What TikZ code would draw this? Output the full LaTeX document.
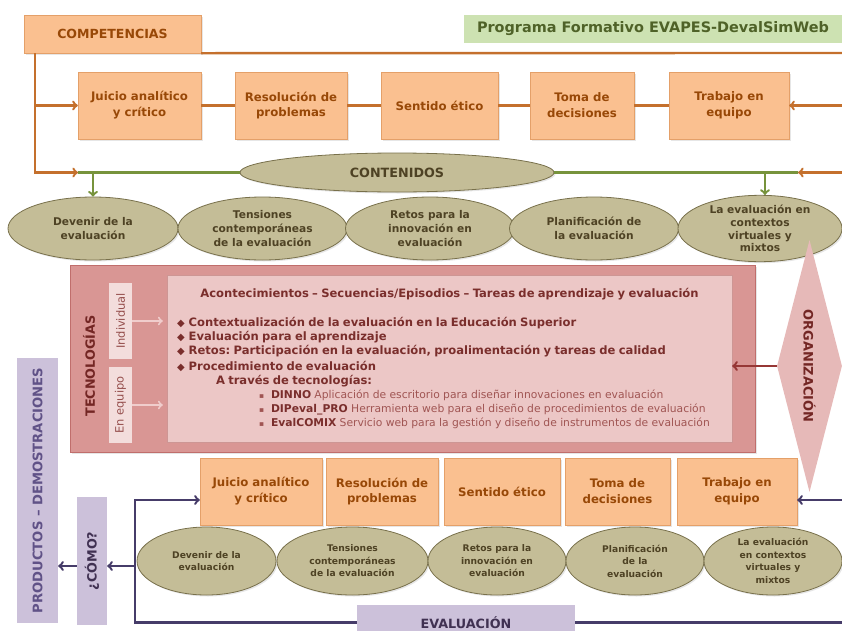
\documentclass[tikz,border=0pt]{standalone}
\usepackage{fontspec}
\setmainfont{DejaVu Sans}
\usepackage{tikz}
\usetikzlibrary{arrows,shapes,shadows}

\definecolor{compfondo}{RGB}{250,192,144}
\definecolor{compborde}{RGB}{228,160,105}
\definecolor{comptexto}{RGB}{152,72,7}
\definecolor{complinea}{RGB}{196,112,45}
\definecolor{contfondo}{RGB}{196,189,151}
\definecolor{contborde}{RGB}{120,112,75}
\definecolor{conttexto}{RGB}{78,66,36}
\definecolor{contlinea}{RGB}{119,147,60}
\definecolor{progfondo}{RGB}{205,226,178}
\definecolor{progtexto}{RGB}{79,98,40}
\definecolor{tecfondo}{RGB}{217,150,148}
\definecolor{tecborde}{RGB}{192,110,108}
\definecolor{tectexto}{RGB}{115,38,36}
\definecolor{acofondo}{RGB}{236,199,198}
\definecolor{acoborde}{RGB}{205,150,148}
\definecolor{acotexto}{RGB}{122,46,44}
\definecolor{acosuave}{RGB}{160,85,83}
\definecolor{indfondo}{RGB}{243,221,220}
\definecolor{indtexto}{RGB}{150,80,78}
\definecolor{indflecha}{RGB}{240,205,204}
\definecolor{orgfondo}{RGB}{230,185,184}
\definecolor{orglinea}{RGB}{150,55,53}
\definecolor{evalfondo}{RGB}{204,193,218}
\definecolor{evaltexto}{RGB}{64,49,82}
\definecolor{evallinea}{RGB}{70,60,105}
\definecolor{prodtexto}{RGB}{96,82,135}

\begin{document}
\begin{tikzpicture}[
  compbox/.style={draw=compborde,fill=compfondo,text=comptexto,align=center,inner sep=1bp,
    minimum height=67bp,font=\bfseries\fontsize{11.8}{16}\selectfont,
    drop shadow={opacity=0.2,shadow xshift=1.5bp,shadow yshift=-1.5bp}},
  contelipse/.style={ellipse,draw=contborde,fill=contfondo,text=conttexto,align=center,inner sep=0pt,
    line width=0.8pt,font=\bfseries\fontsize{10.7}{14.5}\selectfont,
    drop shadow={opacity=0.2,shadow xshift=1.5bp,shadow yshift=-1.5bp}},
  evalbox/.style={fill=evalfondo,text=evaltexto,inner sep=0pt,font=\bfseries\fontsize{12.8}{14}\selectfont},
  compline/.style={draw=complinea,line width=2.4pt},
  contline/.style={draw=contlinea,line width=2.4pt},
  evalline/.style={draw=evallinea,line width=2.4pt},
  >=to]

\useasboundingbox (0bp,0bp) rectangle (842bp,-631bp);
\clip (0bp,0bp) rectangle (842bp,-631bp);

% competencias
\node (competencias) at (112.5bp,-34bp)[compbox,minimum width=177bp,minimum height=38bp,font=\bfseries\fontsize{12.6}{14}\selectfont] {COMPETENCIAS};
\node (programa) at (653bp,-29bp)[fill=progfondo,text=progtexto,minimum width=378bp,minimum height=28bp,font=\bfseries\fontsize{14.5}{16}\selectfont] {Programa Formativo EVAPES-DevalSimWeb};

\node (juicio) at (139.5bp,-105.5bp)[compbox,minimum width=123bp] {Juicio analítico\\y crítico};
\node (resolucion) at (291bp,-105.5bp)[compbox,minimum width=112bp] {Resolución de\\problemas};
\node (sentido) at (439.5bp,-105.5bp)[compbox,minimum width=117bp] {Sentido ético};
\node (toma) at (582bp,-105.5bp)[compbox,minimum width=104bp] {Toma de\\decisiones};
\node (trabajo) at (729bp,-105.5bp)[compbox,minimum width=120bp] {Trabajo en\\equipo};

% contenidos
\node (contenidos) at (397bp,-172.5bp)[contelipse,minimum width=314bp,minimum height=39bp,font=\bfseries\fontsize{12.8}{14}\selectfont] {CONTENIDOS};
\node (devenir) at (93bp,-228.5bp)[contelipse,minimum width=170bp,minimum height=63bp] {Devenir de la\\evaluación};
\node (tensiones) at (262.5bp,-228.5bp)[contelipse,minimum width=169bp,minimum height=63bp] {Tensiones\\contemporáneas\\de la evaluación};
\node (retos) at (430bp,-228.5bp)[contelipse,minimum width=169bp,minimum height=63bp] {Retos para la\\innovación en\\evaluación};
\node (planificacion) at (594bp,-228.5bp)[contelipse,minimum width=169bp,minimum height=63bp] {Planificación de\\la evaluación};
\node (contextos) at (760bp,-228.5bp)[contelipse,minimum width=164bp,minimum height=63bp,font=\bfseries\fontsize{10.7}{12.8}\selectfont] {La evaluación en\\contextos\\virtuales y\\mixtos};

\coordinate (ei) at (35bp,-53bp);
\coordinate (ed) at (850bp,-53bp);
\coordinate (ci) at (78bp,-172.5bp);
\coordinate (cd) at (798bp,-172.5bp);
\coordinate (cb) at (765bp,-172.5bp);

\draw [compline] (competencias.south east) -- (ed);
\draw [compline,->] (ed) |- (trabajo.east);
\draw [compline,->] (ed) |- (cd);
\draw [compline,->] (ei) |- (ci);
\draw [compline,->] (ei |- juicio.west) -- (juicio.west);
\draw [compline] (juicio) -- (resolucion) -- (sentido) -- (toma) -- (trabajo);

\draw [contline] (ci) -- (contenidos.west);
\draw [contline] (contenidos.east) -- (cd);
\draw [contline,->] (devenir.north |- ci) -- (devenir.north);
\draw [contline,->] (cb) -- (cb |- contextos.north);

% tecnologias
\node (tecnologias) at (412.5bp,-358.5bp)[fill=tecfondo,draw=tecborde,minimum width=685bp,minimum height=187bp,
  drop shadow={opacity=0.2,shadow xshift=1.5bp,shadow yshift=-1.5bp}] {};
\node (tectitulo) at (89bp,-366bp)[rotate=90,text=tectexto,font=\bfseries\fontsize{12.8}{14}\selectfont] {TECNOLOGÍAS};
\node (individual) at (120.5bp,-321bp)[rotate=90,fill=indfondo,text=indtexto,minimum width=76bp,minimum height=23bp,inner sep=0pt,font=\fontsize{11.5}{13}\selectfont] {Individual};
\node (equipo) at (120.5bp,-405bp)[rotate=90,fill=indfondo,text=indtexto,minimum width=76bp,minimum height=23bp,inner sep=0pt,font=\fontsize{11.5}{13}\selectfont] {En equipo};
\node (acontecimientos) at (449.5bp,-358.5bp)[fill=acofondo,draw=acoborde,minimum width=565bp,minimum height=167bp,
  text width=553bp,inner xsep=6bp,align=left,text=acotexto] {%
  \frenchspacing
  {\centering\bfseries\fontsize{11.6}{14}\selectfont Acontecimientos – Secuencias/Episodios – Tareas de aprendizaje y evaluación\par}
  \vspace{15bp}
  {\bfseries\fontsize{11.6}{14}\selectfont
  \hspace*{4bp}{\fontsize{10}{14}\selectfont ◆}\hspace{4bp}Contextualización de la evaluación en la Educación Superior\\
  \hspace*{4bp}{\fontsize{10}{14}\selectfont ◆}\hspace{4bp}Evaluación para el aprendizaje\\
  \hspace*{4bp}{\fontsize{10}{14}\selectfont ◆}\hspace{4bp}Retos: Participación en la evaluación, proalimentación y tareas de calidad\\[2bp]
  \hspace*{4bp}{\fontsize{10}{14}\selectfont ◆}\hspace{4bp}Procedimiento de evaluación\\
  \hspace*{43bp}A través de tecnologías:\par}
  {\fontsize{10.8}{14}\selectfont\color{acosuave}
  \hspace*{86bp}\mbox{{\fontsize{7.5}{14}\selectfont ▪}\hspace{7bp}{\bfseries\color{acotexto}DINNO} Aplicación de escritorio para diseñar innovaciones en evaluación}\\
  \hspace*{86bp}\mbox{{\fontsize{7.5}{14}\selectfont ▪}\hspace{7bp}{\bfseries\color{acotexto}DIPeval\_PRO} Herramienta web para el diseño de procedimientos de evaluación}\\
  \hspace*{86bp}\mbox{{\fontsize{7.5}{14}\selectfont ▪}\hspace{7bp}{\bfseries\color{acotexto}EvalCOMIX} Servicio web para la gestión y diseño de instrumentos de evaluación}\par}
};
\draw [->,draw=indflecha,line width=2pt,shorten >=4bp] (individual) -- (individual -| acontecimientos.west);
\draw [->,draw=indflecha,line width=2pt,shorten >=4bp] (equipo) -- (equipo -| acontecimientos.west);

% organizacion
\node (organizacion) at (809.5bp,-366bp)[diamond,fill=orgfondo,minimum width=65bp,minimum height=252bp,inner sep=0pt] {};
\node (orgtexto) at (organizacion.center)[rotate=-90,text=tectexto,font=\bfseries\fontsize{13}{14}\selectfont] {ORGANIZACIÓN};
\draw [->,draw=orglinea,line width=2.4pt] (organizacion.west) -- (acontecimientos.east |- organizacion.west);

% evaluacion
\node (juicio2) at (261bp,-491.5bp)[compbox,minimum width=122bp] {Juicio analítico\\y crítico};
\node (resolucion2) at (382bp,-491.5bp)[compbox,minimum width=112bp] {Resolución de\\problemas};
\node (sentido2) at (502bp,-491.5bp)[compbox,minimum width=116bp] {Sentido ético};
\node (toma2) at (617.5bp,-491.5bp)[compbox,minimum width=105bp] {Toma de\\decisiones};
\node (trabajo2) at (737bp,-491.5bp)[compbox,minimum width=120bp] {Trabajo en\\equipo};

\node (devenir2) at (206.5bp,-561bp)[contelipse,minimum width=139bp,minimum height=68bp,font=\bfseries\fontsize{9.2}{12.5}\selectfont] {Devenir de la\\evaluación};
\node (tensiones2) at (352.5bp,-561bp)[contelipse,minimum width=151bp,minimum height=68bp,font=\bfseries\fontsize{9.2}{12.5}\selectfont] {Tensiones\\contemporáneas\\de la evaluación};
\node (retos2) at (497bp,-561bp)[contelipse,minimum width=138bp,minimum height=68bp,font=\bfseries\fontsize{9.2}{12.5}\selectfont] {Retos para la\\innovación en\\evaluación};
\node (planificacion2) at (635bp,-561bp)[contelipse,minimum width=138bp,minimum height=68bp,font=\bfseries\fontsize{9.2}{12.5}\selectfont] {Planificación\\de la\\evaluación};
\node (contextos2) at (773bp,-561bp)[contelipse,minimum width=138bp,minimum height=68bp,font=\bfseries\fontsize{9.2}{12.5}\selectfont] {La evaluación\\en contextos\\virtuales y\\mixtos};

\node (evaluacion) at (466bp,-622.5bp)[evalbox,minimum width=218bp,minimum height=35bp] {EVALUACIÓN};
\node (como) at (92bp,-561bp)[evalbox,rotate=90,minimum width=128bp,minimum height=30bp] {¿CÓMO?};
\node (productos) at (37.5bp,-490.5bp)[evalbox,rotate=90,minimum width=265bp,minimum height=41bp,text=prodtexto,font=\bfseries\fontsize{13.2}{14}\selectfont] {PRODUCTOS – DEMOSTRACIONES};

\coordinate (vi) at (135bp,-622.5bp);
\coordinate (vd) at (850bp,-622.5bp);
\coordinate (vc) at (135bp,-566bp);
\draw [evalline,->] (evaluacion.east) -- (vd) |- ([yshift=-8.5bp]trabajo2.east);
\draw [evalline,->] (evaluacion.west) -- (vi) |- ([yshift=-8.5bp]juicio2.west);
\draw [evalline,->] (vc) -- (vc -| como.south);
\draw [evalline,->] (como.north |- vc) -- (vc -| productos.south);
\end{tikzpicture}
\end{document}
